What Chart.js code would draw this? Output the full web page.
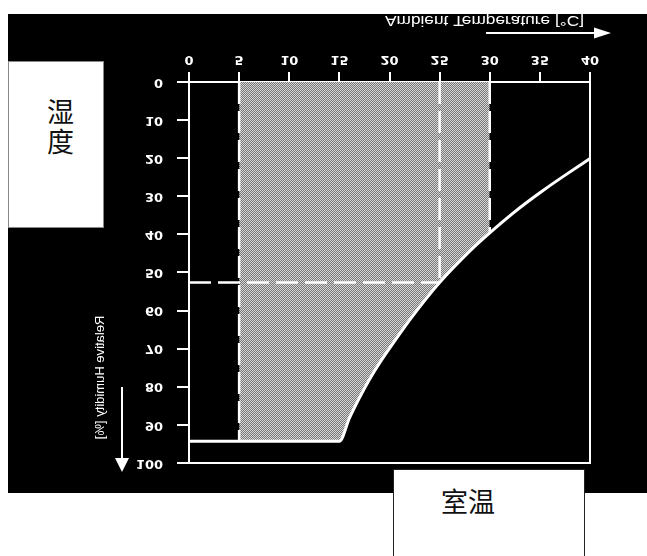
<!DOCTYPE html>
<html><head><meta charset="utf-8">
<script src="https://cdn.jsdelivr.net/npm/chart.js@4.4.1/dist/chart.umd.min.js"></script>
<style>
html,body{margin:0;padding:0;background:#fff;width:647px;height:556px;overflow:hidden;}
#panel{position:absolute;left:8px;top:14px;width:639px;height:479px;background:#000;}
#c{position:absolute;left:0;top:0;width:639px;height:479px;transform:scaleY(-1);}
.box{position:absolute;background:#fff;font-family:"Noto Sans CJK SC","Noto Sans CJK JP",sans-serif;color:#111;}
.box span{position:absolute;font-size:27px;line-height:30px;white-space:nowrap;}
#boxH{left:8px;top:61px;width:94px;height:165px;border:1px solid #888;}
#boxT{left:393px;top:469px;width:190px;height:110px;border:1px solid #222;}
</style></head><body>
<div id="panel"><canvas id="c" width="639" height="479"></canvas></div>
<div class="box" id="boxH"><span style="left:38px;top:34px;">湿<br>度</span></div>
<div class="box" id="boxT"><span style="left:47px;top:16px;">室温</span></div>
<script>
// ---- data ----
const tempTicks = [0, 5, 10, 15, 20, 25, 30, 35, 40];
const humidityTicks = [0, 10, 20, 30, 40, 50, 60, 70, 80, 90, 100];
const limitTemp =     [0,    5,    15,   16,   17,   18,   19,   20,   22,   25,   28,   30,   33,   36,   40];
const limitHumidity = [94.3, 94.3, 94.3, 88.2, 82.9, 78.1, 73.8, 69.9, 62.5, 52.6, 44.4, 39.6, 33.0, 27.2, 20.1];
const lowTemp = 5;
const comfortTemp = 25;
const highTemp = 30;
const comfortHumidity = 52.6;
const xTitle = 'Ambient Temperature [°C]';
const yTitle = 'Relative Humidity [%]';

// ---- derived ----
const curve = limitTemp.map((t, i) => ({x: t, y: limitHumidity[i]}));
const zone = curve.filter(p => p.x >= lowTemp && p.x <= highTemp);
const humAt = t => limitHumidity[limitTemp.indexOf(t)];

const canvas = document.getElementById('c');
const ctx0 = canvas.getContext('2d');
function makePattern() {
  const p = document.createElement('canvas');
  p.width = 2; p.height = 2;
  const g = p.getContext('2d');
  g.fillStyle = '#787878'; g.fillRect(0, 0, 2, 2);
  g.fillStyle = '#d6d6d6'; g.fillRect(0, 0, 1, 1); g.fillRect(1, 1, 1, 1);
  return ctx0.createPattern(p, 'repeat');
}

const dashStyle = {borderColor: '#fff', borderWidth: 2.5, borderDash: [22, 7], pointRadius: 0, fill: false, order: 1};
const tickFont = {family: '"DejaVu Sans", sans-serif', size: 13, weight: 'bold'};

function arrow(ctx, x1, y1, x2, y2, len, half) {
  const ang = Math.atan2(y2 - y1, x2 - x1);
  const bx = x2 - len * Math.cos(ang), by = y2 - len * Math.sin(ang);
  ctx.beginPath(); ctx.moveTo(x1, y1); ctx.lineTo(bx, by); ctx.stroke();
  ctx.beginPath();
  ctx.moveTo(x2, y2);
  ctx.lineTo(bx + half * Math.sin(ang), by - half * Math.cos(ang));
  ctx.lineTo(bx - half * Math.sin(ang), by + half * Math.cos(ang));
  ctx.closePath(); ctx.fill();
}

const decor = {
  id: 'decor',
  afterDraw(chart) {
    const {ctx, chartArea: a} = chart;
    ctx.save();
    ctx.strokeStyle = '#fff'; ctx.fillStyle = '#fff'; ctx.lineWidth = 2;
    ctx.beginPath();
    ctx.moveTo(a.left, a.top); ctx.lineTo(a.right, a.top); ctx.lineTo(a.right, a.bottom);
    ctx.stroke();
    // x title
    ctx.save();
    ctx.font = '14px "Liberation Sans", Arial, sans-serif';
    const w = ctx.measureText(xTitle).width;
    ctx.translate(a.left + 196, a.bottom + 66);
    ctx.scale(199 / w, 1);
    ctx.textBaseline = 'alphabetic'; ctx.textAlign = 'left';
    ctx.fillText(xTitle, 0, 0);
    ctx.restore();
    arrow(ctx, a.left + 297, a.bottom + 49, a.left + 422, a.bottom + 49, 17, 5.5);
    // y title
    ctx.save();
    ctx.font = '13px "Liberation Sans", Arial, sans-serif';
    ctx.translate(a.left - 88.5, a.top + 85.5);
    ctx.rotate(-Math.PI / 2);
    ctx.textAlign = 'center'; ctx.textBaseline = 'middle';
    ctx.fillText(yTitle, 0, 0);
    ctx.restore();
    arrow(ctx, a.left - 67, a.top + 76, a.left - 67, a.top - 9, 14, 7);
    ctx.restore();
  }
};

new Chart(canvas, {
  type: 'line',
  data: {
    datasets: [
      {data: curve, borderColor: '#fff', borderWidth: 3, pointRadius: 0, fill: false,
       cubicInterpolationMode: 'monotone', order: 0},
      Object.assign({data: [{x: lowTemp, y: 0}, {x: lowTemp, y: humAt(lowTemp)}]}, dashStyle),
      Object.assign({data: [{x: comfortTemp, y: 0}, {x: comfortTemp, y: comfortHumidity}]}, dashStyle),
      Object.assign({data: [{x: highTemp, y: 0}, {x: highTemp, y: humAt(highTemp)}]}, dashStyle),
      Object.assign({data: [{x: 0, y: comfortHumidity}, {x: comfortTemp, y: comfortHumidity}]}, dashStyle),
      {data: zone, borderWidth: 0, borderColor: 'rgba(0,0,0,0)', pointRadius: 0,
       backgroundColor: makePattern(), fill: {value: 0}, cubicInterpolationMode: 'monotone', order: 5}
    ]
  },
  options: {
    responsive: false,
    animation: false,
    events: [],
    layout: {padding: {top: 30, right: 57, bottom: 0, left: 0}},
    plugins: {legend: {display: false}, tooltip: {enabled: false}},
    scales: {
      x: {
        type: 'linear', position: 'bottom', min: 0, max: 40,
        afterBuildTicks: s => { s.ticks = tempTicks.map(v => ({value: v})); },
        afterFit: s => { s.height = 68; },
        ticks: {color: '#fff', font: tickFont, padding: 5, maxRotation: 0},
        grid: {drawOnChartArea: false, drawTicks: true, tickLength: 10, color: '#fff', lineWidth: 2},
        border: {display: true, color: '#fff', width: 2}
      },
      y: {
        type: 'linear', position: 'left', min: 0, max: 100,
        afterBuildTicks: s => { s.ticks = humidityTicks.map(v => ({value: v})); },
        afterFit: s => { s.width = 181; },
        ticks: {color: '#fff', font: tickFont, padding: 14},
        grid: {drawOnChartArea: false, drawTicks: true, tickLength: 12, color: '#fff', lineWidth: 2},
        border: {display: true, color: '#fff', width: 2}
      }
    }
  },
  plugins: [decor]
});
</script>
</body></html>
